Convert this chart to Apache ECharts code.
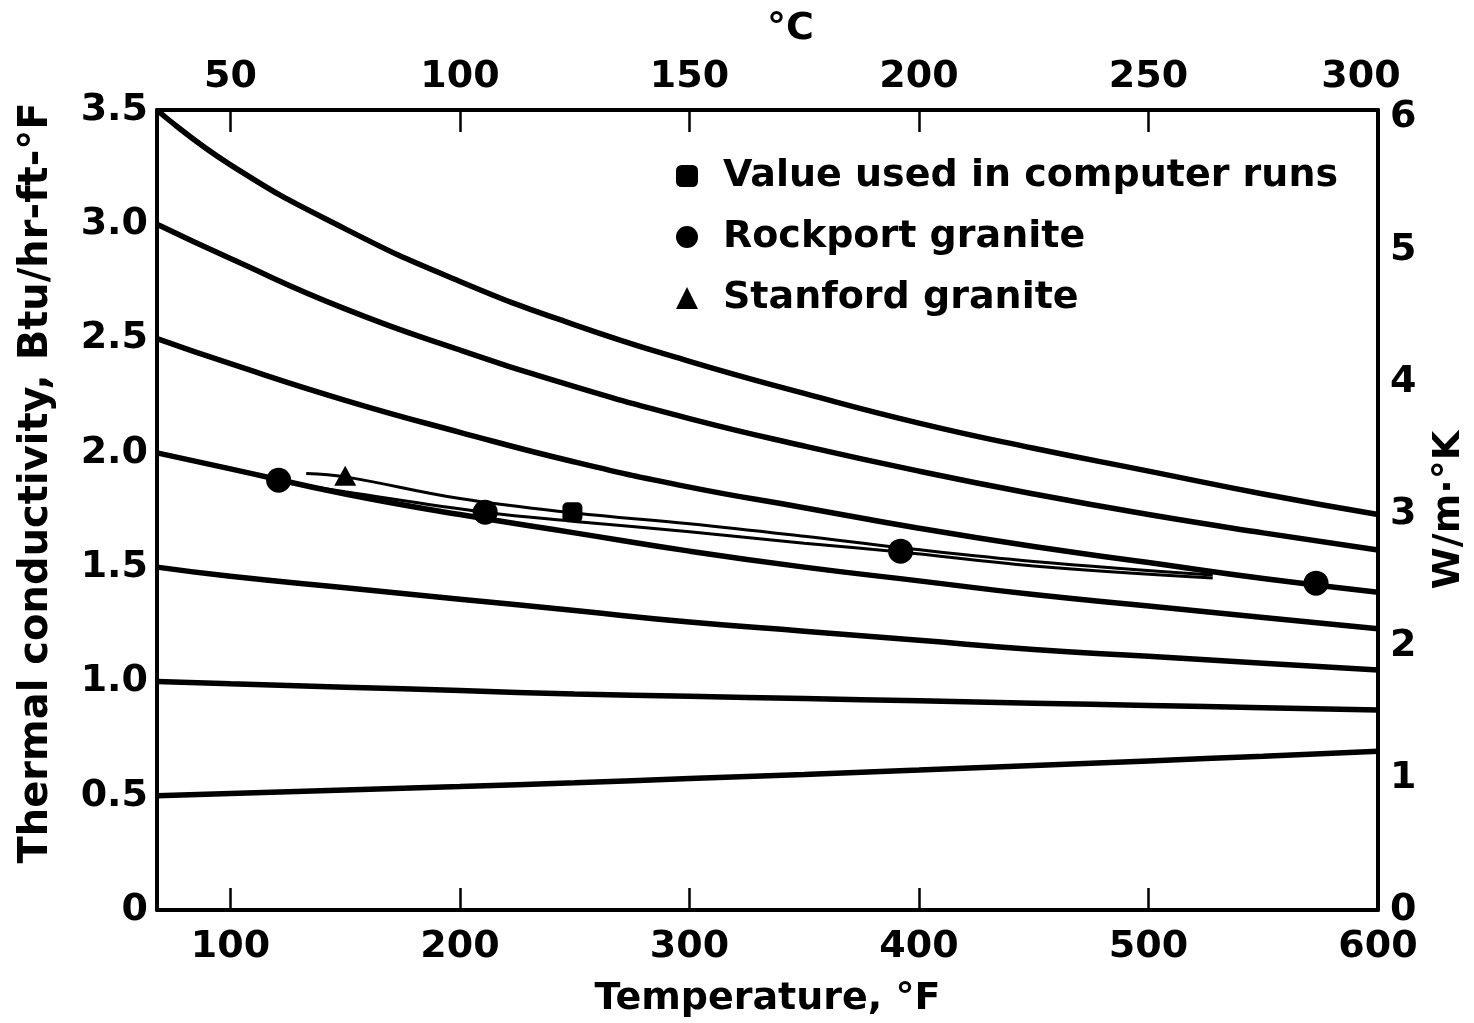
<!DOCTYPE html>
<html>
<head>
<meta charset="utf-8">
<title>Thermal conductivity of granite vs temperature</title>
<script src="https://cdn.jsdelivr.net/npm/echarts@6/dist/echarts.min.js"></script>
<style>
  html, body { margin: 0; padding: 0; background: #fff; }
  #chart { width: 1474px; height: 1023px; }
</style>
</head>
<body>
<div id="chart"></div>
<script>
// Temperatures (°F) at which the family of conductivity curves is sampled
const tempF = [68, 100, 150, 200, 250, 300, 350, 400, 450, 500, 550, 600];

// Conductivity curves, Btu/hr-ft-°F, labelled by their value at room temperature
const k35 = [3.50, 3.26, 2.98, 2.75, 2.56, 2.40, 2.26, 2.13, 2.02, 1.92, 1.82, 1.73];
const k30 = [3.00, 2.85, 2.63, 2.45, 2.29, 2.15, 2.03, 1.92, 1.82, 1.73, 1.65, 1.575];
const k25 = [2.50, 2.39, 2.23, 2.09, 1.96, 1.85, 1.76, 1.67, 1.59, 1.52, 1.45, 1.39];
const k20 = [2.00, 1.93, 1.82, 1.73, 1.65, 1.57, 1.50, 1.44, 1.38, 1.33, 1.28, 1.23];
const k15 = [1.50, 1.46, 1.41, 1.36, 1.31, 1.26, 1.22, 1.18, 1.14, 1.11, 1.08, 1.05];
const k10 = [1.00, 0.99, 0.975, 0.96, 0.945, 0.935, 0.925, 0.915, 0.905, 0.895, 0.885, 0.875];
const k05 = [0.50, 0.51, 0.525, 0.54, 0.557, 0.575, 0.593, 0.612, 0.632, 0.652, 0.673, 0.695];

// Measured points
const rockportT = [121, 211, 392, 573];
const rockportK = [1.88, 1.74, 1.57, 1.43];
const stanfordT = [150];
const stanfordK = [1.90];
const computerT = [249];
const computerK = [1.74];

// Thin fitted lines through the measurements
const fitAT = [133, 150, 200, 250, 300, 350, 392, 450, 528];
const fitAK = [1.91, 1.895, 1.80, 1.737, 1.69, 1.635, 1.585, 1.525, 1.466];
const fitBT = [121, 150, 211, 250, 300, 350, 392, 450, 528];
const fitBK = [1.875, 1.83, 1.74, 1.70, 1.655, 1.605, 1.566, 1.505, 1.452];

// Axis ticks
const ticksF = [100, 200, 300, 400, 500, 600];
const ticksC = [50, 100, 150, 200, 250, 300];
const ticksW = [0, 1, 2, 3, 4, 5, 6];

const BTU_TO_W = 1.7307; // 1 Btu/hr-ft-°F in W/m·K
const FONT = '"DejaVu Sans", "Liberation Sans", Arial, sans-serif';
const INK = '#000';

const pairs = (xs, ys) => xs.map((x, i) => [x, ys[i]]);

const txt = { fontFamily: FONT, fontWeight: 'bold', fontSize: 38, color: INK };

const curveSeries = [k35, k30, k25, k20, k15, k10, k05].map((k, i) => ({
  name: 'curve' + i,
  type: 'line',
  xAxisIndex: 0, yAxisIndex: 0,
  data: pairs(tempF, k),
  smooth: 0.5,
  showSymbol: false,
  silent: true,
  lineStyle: { color: INK, width: 5.5 },
  z: 2
}));

const chart = echarts.init(document.getElementById('chart'), null, { renderer: 'canvas' });

chart.setOption({
  backgroundColor: '#fff',
  animation: false,
  grid: { left: 157, right: 96, top: 110, bottom: 113, outerBoundsMode: 'none' },
  legend: {
    orient: 'vertical',
    left: 671,
    top: 151,
    itemWidth: 22,
    itemHeight: 22,
    itemGap: 21,
    selectedMode: false,
    textStyle: Object.assign({}, txt, { lineHeight: 40, padding: [0, 0, 0, 20] }),
    data: [
      { name: 'Value used in computer runs', icon: 'roundRect', itemStyle: { color: INK, opacity: 1 } },
      { name: 'Rockport granite', icon: 'circle', itemStyle: { color: INK, opacity: 1 } },
      { name: 'Stanford granite', icon: 'triangle', itemStyle: { color: INK, opacity: 1 } }
    ]
  },
  xAxis: [
    {
      type: 'value', position: 'bottom', min: 68, max: 600,
      name: 'Temperature, °F', nameLocation: 'middle', nameGap: 70,
      nameTextStyle: Object.assign({}, txt),
      axisLine: { show: true, onZero: false, lineStyle: { color: INK, width: 4 } },
      axisTick: { show: true, inside: true, length: 22, customValues: ticksF, lineStyle: { color: INK, width: 2.5 } },
      axisLabel: Object.assign({}, txt, { margin: 18, customValues: ticksF }),
      splitLine: { show: false }
    },
    {
      type: 'value', position: 'top', min: 34, max: 300,
      name: '°C', nameLocation: 'middle', nameGap: 62,
      nameTextStyle: Object.assign({}, txt, { padding: [0, 0, 0, 46] }),
      axisLine: { show: true, onZero: false, lineStyle: { color: INK, width: 4 } },
      axisTick: { show: true, inside: true, length: 22, customValues: ticksC, lineStyle: { color: INK, width: 2.5 } },
      axisLabel: Object.assign({}, txt, {
        margin: 14, customValues: ticksC,
        formatter: v => v === 300 ? '{e|300}' : String(v),
        rich: { e: Object.assign({}, txt, { padding: [0, 34, 0, 0] }) }
      }),
      splitLine: { show: false }
    }
  ],
  yAxis: [
    {
      type: 'value', position: 'left', min: 0, max: 3.5, interval: 0.5,
      name: 'Thermal conductivity, Btu/hr-ft-°F', nameLocation: 'middle', nameGap: 100,
      nameRotate: 90,
      nameTextStyle: Object.assign({}, txt, { fontSize: 40, padding: [0, 0, 0, 54] }),
      axisLine: { show: true, onZero: false, lineStyle: { color: INK, width: 4 } },
      axisTick: { show: false },
      axisLabel: Object.assign({}, txt, { margin: 9, formatter: v => v === 0 ? '0' : v.toFixed(1) }),
      splitLine: { show: false }
    },
    {
      type: 'value', position: 'right', min: 0, max: 3.5 * BTU_TO_W,
      name: 'W/m·°K', nameLocation: 'middle', nameGap: 52,
      nameRotate: 90,
      nameTextStyle: Object.assign({}, txt),
      axisLine: { show: true, onZero: false, lineStyle: { color: INK, width: 4 } },
      axisTick: { show: false },
      axisLabel: Object.assign({}, txt, { margin: 12, customValues: ticksW, formatter: v => String(Math.round(v)) }),
      splitLine: { show: false }
    }
  ],
  series: curveSeries.concat([
    {
      name: 'fitA', type: 'line', data: pairs(fitAT, fitAK), smooth: 0.4,
      showSymbol: false, silent: true, lineStyle: { color: INK, width: 3 }, z: 3
    },
    {
      name: 'fitB', type: 'line', data: pairs(fitBT, fitBK), smooth: 0.4,
      showSymbol: false, silent: true, lineStyle: { color: INK, width: 3 }, z: 3
    },
    {
      name: 'Value used in computer runs', type: 'scatter', data: pairs(computerT, computerK),
      symbol: 'roundRect', symbolSize: 20, itemStyle: { color: INK, opacity: 1 }, z: 5
    },
    {
      name: 'Rockport granite', type: 'scatter', data: pairs(rockportT, rockportK),
      symbol: 'circle', symbolSize: 25, itemStyle: { color: INK, opacity: 1 }, z: 5
    },
    {
      name: 'Stanford granite', type: 'scatter', data: pairs(stanfordT, stanfordK),
      symbol: 'triangle', symbolSize: [22, 20], itemStyle: { color: INK, opacity: 1 }, z: 5
    }
  ])
});
</script>
</body>
</html>
